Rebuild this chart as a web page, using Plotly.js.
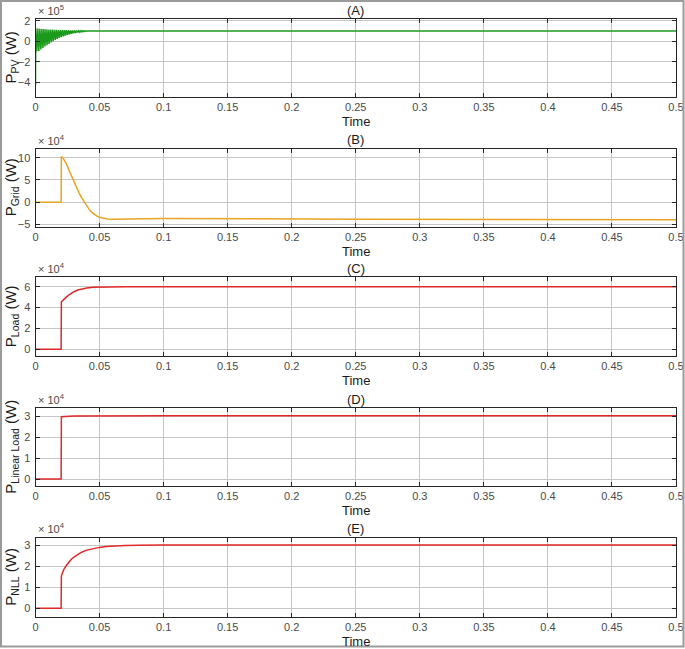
<!DOCTYPE html>
<html>
<head>
<meta charset="utf-8">
<script src="https://cdn.plot.ly/plotly-3.0.1.min.js"></script>
<style>
html,body{margin:0;padding:0;background:#fff;}
#chart{width:685px;height:649px;}
</style>
</head>
<body>
<div id="chart"></div>
<script>
// ---- Data ----
// Panel A: PV power (x1e5 W)
const pvTime = [0, 0.0002, 0.0010, 0.0018, 0.0026, 0.0034, 0.0042, 0.0050, 0.0058, 0.0066, 0.0074,
  0.0082, 0.0090, 0.0098, 0.0106, 0.0114, 0.0122, 0.0130, 0.0138, 0.0146, 0.0154,
  0.0162, 0.0170, 0.0178, 0.0186, 0.0194, 0.0202, 0.0210, 0.0218, 0.0226, 0.0234,
  0.0242, 0.0250, 0.0258, 0.0266, 0.0274, 0.0282, 0.0290, 0.0298, 0.0306, 0.0314,
  0.0322, 0.0330, 0.0338, 0.0346, 0.0354, 0.0362, 0.0370, 0.0378, 0.0386, 0.0394,
  0.0402, 0.045, 0.1, 0.2, 0.3, 0.4, 0.5];
const pvPower = [-4.3, 1.3, -1.0, 1.25, -0.95, 1.22, -0.8, 1.2, -0.65, 1.18, -0.5,
  1.17, -0.38, 1.15, -0.25, 1.14, -0.12, 1.13, 0.0, 1.12, 0.12,
  1.11, 0.22, 1.10, 0.32, 1.10, 0.40, 1.09, 0.48, 1.08, 0.55,
  1.08, 0.62, 1.07, 0.68, 1.06, 0.73, 1.05, 0.78, 1.05, 0.82,
  1.04, 0.86, 1.03, 0.89, 1.03, 0.92, 1.02, 0.95, 1.01, 0.97,
  1.0, 1.0, 1.0, 1.0, 1.0, 1.0, 1.0];

// Panel B: Grid power (x1e4 W)
const gridTime  = [0, 0.02, 0.0202, 0.021, 0.022, 0.024, 0.026, 0.028, 0.030, 0.032, 0.034, 0.036, 0.038,
  0.040, 0.042, 0.044, 0.046, 0.048, 0.050, 0.053, 0.056, 0.060, 0.070, 0.1, 0.25, 0.5];
const gridPower = [0, 0, 10.2, 10.1, 9.7, 8.7, 7.3, 5.9, 4.5, 3.3, 2.1, 1.0, 0.0,
  -0.9, -1.7, -2.3, -2.8, -3.15, -3.4, -3.65, -3.8, -3.87, -3.85, -3.72, -3.85, -4.0];

// Panel C: Load power (x1e4 W)
const loadTime  = [0, 0.02, 0.0202, 0.022, 0.024, 0.026, 0.028, 0.030, 0.033, 0.036, 0.040, 0.045, 0.050, 0.055, 0.060, 0.070, 0.5];
const loadPower = [0, 0, 4.55, 4.8, 5.0, 5.2, 5.38, 5.52, 5.68, 5.79, 5.88, 5.94, 5.96, 5.98, 5.99, 6.0, 6.0];

// Panel D: Linear load power (x1e4 W)
const linTime  = [0, 0.02, 0.0202, 0.03, 0.1, 0.5];
const linPower = [0, 0, 2.97, 3.0, 3.02, 3.02];

// Panel E: Non-linear load power (x1e4 W)
const nllTime  = [0, 0.02, 0.0202, 0.021, 0.022, 0.024, 0.026, 0.028, 0.030, 0.033, 0.036, 0.040, 0.045,
  0.050, 0.055, 0.060, 0.070, 0.080, 0.1, 0.5];
const nllPower = [0, 0, 1.53, 1.7, 1.83, 2.03, 2.2, 2.33, 2.43, 2.56, 2.66, 2.76, 2.84,
  2.89, 2.93, 2.95, 2.98, 2.99, 3.0, 3.0];

const xTicks = [0, 0.05, 0.1, 0.15, 0.2, 0.25, 0.3, 0.35, 0.4, 0.45, 0.5];
const panelTitles = ['(A)', '(B)', '(C)', '(D)', '(E)'];
const yTitles = ['P<sub>PV</sub> (W)', 'P<sub>Grid</sub> (W)', 'P<sub>Load</sub> (W)', 'P<sub>Linear Load</sub> (W)', 'P<sub>NLL</sub> (W)'];
const xTitle = 'Time';
const exponents = ['\u00d7 10<sup>5</sup>', '\u00d7 10<sup>4</sup>', '\u00d7 10<sup>4</sup>', '\u00d7 10<sup>4</sup>', '\u00d7 10<sup>4</sup>'];
const yTickVals = [[-4, -2, 0, 2], [-5, 0, 5, 10], [0, 2, 4, 6], [0, 1, 2, 3], [0, 1, 2, 3]];
const yRanges = [[-5.43, 2.17], [-5.55, 12.0], [-0.64, 6.9], [-0.33, 3.37], [-0.4, 3.35]];

// ---- Styling / layout ----
const W = 685, H = 649;
const FONT = 'Liberation Sans, Arial, sans-serif';
const colors = ['#1c9a1c', '#e8a321', '#e02828', '#e02828', '#e02828'];
const series = [[pvTime, pvPower], [gridTime, gridPower], [loadTime, loadPower], [linTime, linPower], [nllTime, nllPower]];
// pixel top/bottom of each plot box
const boxPx = [[19, 97], [149, 226.7], [277.3, 356], [408.3, 486], [537.7, 616.7]];
const xLeftPx = 35.5, xRightPx = 676;

const data = series.map((s, i) => ({
  x: s[0], y: s[1], type: 'scatter', mode: 'lines',
  line: {color: colors[i], width: 1.5},
  xaxis: 'x' + (i === 0 ? '' : i + 1),
  yaxis: 'y' + (i === 0 ? '' : i + 1),
  hoverinfo: 'skip', showlegend: false
}));

const layout = {
  width: W, height: H,
  margin: {l: 0, r: 0, t: 0, b: 0},
  paper_bgcolor: '#ffffff', plot_bgcolor: '#ffffff',
  font: {family: FONT, color: '#404040', size: 11},
  showlegend: false,
  annotations: [],
  shapes: [{
    type: 'rect', xref: 'paper', yref: 'paper',
    x0: 1 / W, x1: 1 - 1.5 / W, y0: 2.5 / H, y1: 1 - 1 / H,
    line: {color: '#9a9a9a', width: 2}, fillcolor: 'rgba(0,0,0,0)', layer: 'above'
  }]
};

for (let i = 0; i < 5; i++) {
  const sfx = i === 0 ? '' : String(i + 1);
  const top = boxPx[i][0], bot = boxPx[i][1];
  const common = {
    showline: true, linecolor: '#262626', linewidth: 1, mirror: 'ticks',
    ticks: 'inside', ticklen: 4, tickcolor: '#262626',
    showgrid: true, gridcolor: '#c6c6c6', gridwidth: 1,
    zeroline: false, tickfont: {family: FONT, size: 11, color: '#4a4a4a'},
    fixedrange: true
  };
  layout['xaxis' + sfx] = Object.assign({}, common, {
    domain: [xLeftPx / W, xRightPx / W],
    anchor: 'y' + sfx,
    range: [0, 0.5],
    tickvals: xTicks,
    ticktext: xTicks.map(v => String(v)),
    ticklabelstandoff: 0
  });
  layout['yaxis' + sfx] = Object.assign({}, common, {
    domain: [1 - bot / H, 1 - top / H],
    anchor: 'x' + sfx,
    range: yRanges[i],
    tickvals: yTickVals[i],
    ticklabelstandoff: 2
  });
  // panel title
  layout.annotations.push({
    xref: 'paper', yref: 'paper',
    x: (xLeftPx + xRightPx) / 2 / W, y: 1 - (top - 9) / H,
    text: panelTitles[i], showarrow: false,
    font: {family: FONT, size: 13, color: '#1a1a1a'},
    xanchor: 'center', yanchor: 'middle'
  });
  // exponent
  layout.annotations.push({
    xref: 'paper', yref: 'paper',
    x: (xLeftPx) / W, y: 1 - (top - 0.5) / H,
    text: exponents[i], showarrow: false,
    font: {family: FONT, size: 11, color: '#4a4a4a'},
    xanchor: 'left', yanchor: 'bottom'
  });
  // x-axis title
  layout.annotations.push({
    xref: 'paper', yref: 'paper',
    x: (xLeftPx + xRightPx) / 2 / W, y: 1 - (bot + 16) / H,
    text: xTitle, showarrow: false,
    font: {family: FONT, size: 13, color: '#1a1a1a'},
    xanchor: 'center', yanchor: 'top', borderpad: 0
  });
  // y-axis title
  layout.annotations.push({
    xref: 'paper', yref: 'paper',
    x: 11.5 / W, y: 1 - (top + bot) / 2 / H,
    text: yTitles[i], showarrow: false, textangle: -90,
    font: {family: FONT, size: 15, color: '#1a1a1a'},
    xanchor: 'center', yanchor: 'middle'
  });
}

Plotly.newPlot('chart', data, layout, {displayModeBar: false, staticPlot: true});
</script>
</body>
</html>
